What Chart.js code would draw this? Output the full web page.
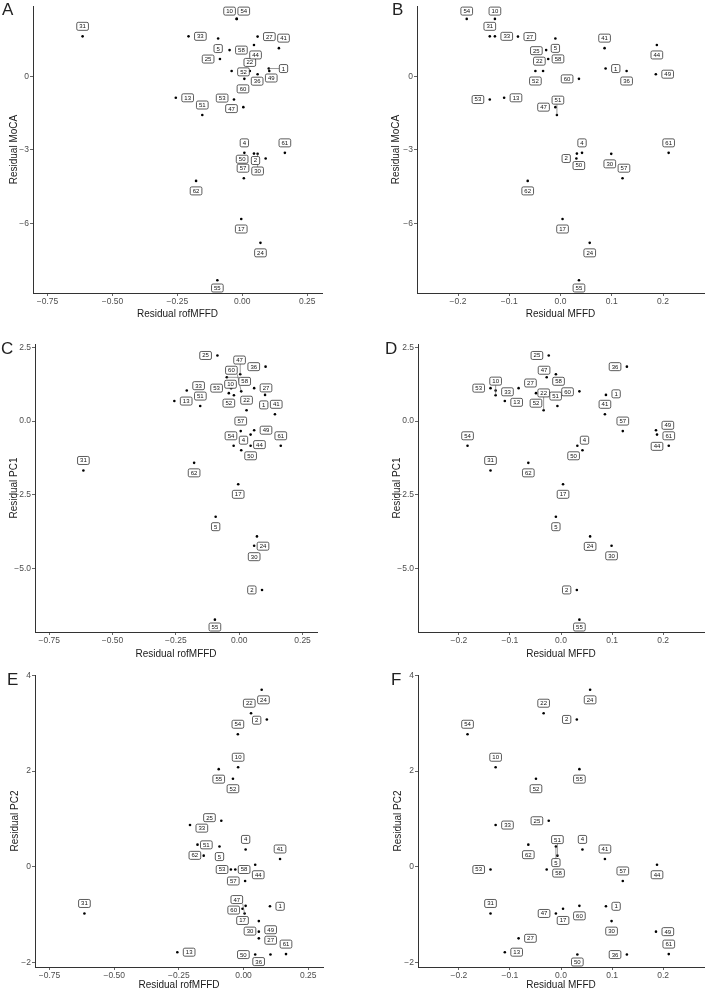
<!DOCTYPE html>
<html>
<head>
<meta charset="utf-8">
<script src="https://cdn.jsdelivr.net/npm/chart.js@4.4.1/dist/chart.umd.min.js"></script>
<style>
  body { margin: 0; background: #fff; width: 708px; height: 991px; position: relative; overflow: hidden; }
  canvas { position: absolute; }
  .tag { position: absolute; font-family: "Liberation Sans", Arial, sans-serif; font-size: 17px; line-height: 1; color: #222; }
</style>
</head>
<body>
<canvas id="chartA"></canvas>
<canvas id="chartB"></canvas>
<canvas id="chartC"></canvas>
<canvas id="chartD"></canvas>
<canvas id="chartE"></canvas>
<canvas id="chartF"></canvas>
<div class="tag" style="left:2px;top:1px">A</div>
<div class="tag" style="left:392px;top:1px">B</div>
<div class="tag" style="left:1px;top:340px">C</div>
<div class="tag" style="left:385px;top:340px">D</div>
<div class="tag" style="left:7px;top:671px">E</div>
<div class="tag" style="left:391px;top:671px">F</div>
<script>
const FONT = '"Liberation Sans", Arial, sans-serif';
const LABEL_SIZE = 6;

// subjects, in the same order in every array
const subjectIds = ["1", "2", "4", "5", "10", "13", "17", "22", "24", "25", "27", "30", "31", "33", "36",
  "41", "44", "47", "49", "50", "51", "52", "53", "54", "55", "57", "58", "60", "61", "62"];
const residRofMFFD = [0.102, 0.090, 0.008, -0.093, -0.021, -0.256, -0.004, 0.029, 0.070, -0.086, 0.059, 0.059, -0.615, -0.207, 0.104,
  0.141, 0.045, 0.004, 0.059, 0.045, -0.154, -0.041, -0.032, -0.022, -0.096, 0.006, -0.049, 0.008, 0.164, -0.178];
const residMFFD = [0.088, 0.031, 0.042, -0.010, -0.128, -0.110, 0.004, -0.034, 0.057, -0.024, -0.083, 0.099, -0.138, -0.128, 0.129,
  0.086, 0.188, -0.010, 0.186, 0.032, -0.007, -0.049, -0.138, -0.183, 0.036, 0.121, -0.028, 0.036, 0.211, -0.064];
const residMoCA = [0.31, -3.35, -3.12, 1.53, 2.33, -0.88, -5.81, 0.21, -6.78, 0.70, 1.61, -3.16, 1.62, 1.62, 0.21,
  1.14, 1.27, -1.26, 0.08, -3.15, -1.58, 0.21, -0.95, 2.33, -8.30, -4.15, 1.06, -0.11, -3.12, -4.26];
const residPC1 = [0.89, -5.74, -0.99, -3.25, 0.88, 0.68, -2.15, 0.37, -3.92, 2.23, 1.12, -4.24, -1.68, 1.04, 1.85,
  0.23, -0.46, 1.59, -0.31, -0.84, 0.51, 0.95, 1.12, -0.84, -6.75, -0.34, 1.49, 1.01, -0.84, -1.42];
const residPC2 = [-0.83, 3.08, 0.36, 0.42, 2.08, -1.79, -0.88, 3.21, 3.70, 0.96, -1.50, -1.14, -0.98, 0.87, -1.84,
  0.16, 0.04, -0.98, -1.36, -1.84, 0.23, 1.84, -0.06, 2.77, 2.04, -0.30, -0.06, -0.82, -1.83, 0.46];

// axis limits and ticks
const rofRange = [-0.806, 0.307];
const mffdRange = [-0.28, 0.28];
const mocaRange = [-8.82, 2.85];
const pc1Range = [-7.17, 2.62];
const pc2Range = [-2.10, 4.01];

const rofTicks = [-0.75, -0.5, -0.25, 0, 0.25];
const rofTickLabels = ["\u22120.75", "\u22120.50", "\u22120.25", "0.00", "0.25"];
const mffdTicks = [-0.2, -0.1, 0, 0.1, 0.2];
const mffdTickLabels = ["\u22120.2", "\u22120.1", "0.0", "0.1", "0.2"];
const mocaTicks = [-6, -3, 0];
const mocaTickLabels = ["\u22126", "\u22123", "0"];
const pc1Ticks = [-5, -2.5, 0, 2.5];
const pc1TickLabels = ["\u22125.0", "\u22122.5", "0.0", "2.5"];
const pc2Ticks = [-2, 0, 2, 4];
const pc2TickLabels = ["\u22122", "0", "2", "4"];

function clamp(v, lo, hi) {
  return Math.max(lo, Math.min(hi, v));
}

// crude ggrepel: push label boxes off each other and off the points
function repel(boxes, pts, area) {
  const n = boxes.length;
  for (let it = 0; it < 500; it++) {
    for (let i = 0; i < n; i++) {
      const a = boxes[i];
      a.x += (pts[i].x - a.x) * 0.02;
      a.y += (pts[i].y - a.y) * 0.02;
      for (let j = 0; j < n; j++) {
        if (j === i) continue;
        const b = boxes[j];
        const dx = a.x - b.x, dy = a.y - b.y;
        const ox = (a.w + b.w) / 2 + 2.5 - Math.abs(dx);
        const oy = (a.h + b.h) / 2 + 2.5 - Math.abs(dy);
        if (ox > 0 && oy > 0) {
          if (ox < oy) {
            const s = (dx > 0 ? 1 : dx < 0 ? -1 : (i < j ? 1 : -1)) * ox / 2;
            a.x += s; b.x -= s;
          } else {
            const s = (dy > 0 ? 1 : dy < 0 ? -1 : (i < j ? 1 : -1)) * oy / 2;
            a.y += s; b.y -= s;
          }
        }
      }
      for (let k = 0; k < pts.length; k++) {
        const p = pts[k];
        const pad = k === i ? 6 : 3;
        const dx = a.x - p.x, dy = a.y - p.y;
        const ox = a.w / 2 + pad - Math.abs(dx);
        const oy = a.h / 2 + pad - Math.abs(dy);
        if (ox > 0 && oy > 0) {
          if (ox < oy) a.x += (dx >= 0 ? 1 : -1) * ox;
          else a.y += (dy >= 0 ? 1 : -1) * oy;
        }
      }
      a.x = clamp(a.x, area.left + a.w / 2 + 1, area.right - a.w / 2 - 1);
      a.y = clamp(a.y, area.top + a.h / 2 + 1, area.bottom - a.h / 2 - 1);
    }
  }
}

const repelLabels = {
  id: "repelLabels",
  afterDatasetsDraw(chart) {
    const ds = chart.data.datasets[0];
    const meta = chart.getDatasetMeta(0);
    const ctx = chart.ctx;
    const area = chart.chartArea;
    ctx.save();
    ctx.font = `${LABEL_SIZE}px ${FONT}`;
    const pts = meta.data.map(el => ({ x: el.x, y: el.y }));
    const boxes = ds.ids.map((id, i) => {
      const a = i * 2.39996 + 0.6;
      return {
        x: pts[i].x + Math.cos(a) * 11,
        y: pts[i].y + Math.sin(a) * 11,
        w: ctx.measureText(id).width + 5,
        h: 8
      };
    });
    repel(boxes, pts, area);

    ctx.strokeStyle = "#555";
    ctx.lineWidth = 0.6;
    boxes.forEach((b, i) => {
      const p = pts[i];
      const nx = clamp(p.x, b.x - b.w / 2, b.x + b.w / 2);
      const ny = clamp(p.y, b.y - b.h / 2, b.y + b.h / 2);
      if (Math.hypot(nx - p.x, ny - p.y) > 10) {
        ctx.beginPath();
        ctx.moveTo(p.x, p.y);
        ctx.lineTo(nx, ny);
        ctx.stroke();
      }
    });

    ctx.textAlign = "center";
    ctx.textBaseline = "middle";
    boxes.forEach((b, i) => {
      ctx.beginPath();
      ctx.roundRect(b.x - b.w / 2, b.y - b.h / 2, b.w, b.h, 1.5);
      ctx.fillStyle = "#fff";
      ctx.fill();
      ctx.strokeStyle = "#333";
      ctx.lineWidth = 0.8;
      ctx.stroke();
      ctx.fillStyle = "#111";
      ctx.fillText(ds.ids[i], b.x, b.y + 0.3);
    });
    ctx.restore();
  }
};

function axisOptions(range, ticks, tickLabels, title, size, isX) {
  return {
    type: "linear",
    min: range[0],
    max: range[1],
    afterBuildTicks: scale => { scale.ticks = ticks.map(v => ({ value: v })); },
    afterFit: scale => {
      if (isX) scale.height = size;
      else scale.width = size;
    },
    grid: { drawOnChartArea: false, drawTicks: true, tickLength: 3, color: "#666" },
    border: { display: true, color: "#333", width: 1 },
    ticks: {
      autoSkip: false,
      maxRotation: 0,
      padding: 1,
      color: "#4d4d4d",
      font: { size: 8.5, family: FONT },
      callback: (v, i) => tickLabels[i]
    },
    title: { display: true, text: title, color: "#1a1a1a", font: { size: 10, family: FONT }, padding: 0 }
  };
}

const panels = [
  { id: "chartA", left: 0, top: 0, width: 354, height: 320, pad: { left: 8, top: 3, right: 32, bottom: 0 }, yw: 25, xh: 27,
    xs: residRofMFFD, ys: residMoCA, xr: rofRange, yr: mocaRange, xt: rofTicks, xl: rofTickLabels, yt: mocaTicks, yl: mocaTickLabels,
    xTitle: "Residual rofMFFD", yTitle: "Residual MoCA" },
  { id: "chartB", left: 354, top: 0, width: 354, height: 320, pad: { left: 36, top: 3, right: 0, bottom: 0 }, yw: 27, xh: 27,
    xs: residMFFD, ys: residMoCA, xr: mffdRange, yr: mocaRange, xt: mffdTicks, xl: mffdTickLabels, yt: mocaTicks, yl: mocaTickLabels,
    xTitle: "Residual MFFD", yTitle: "Residual MoCA" },
  { id: "chartC", left: 0, top: 320, width: 354, height: 340, pad: { left: 8, top: 24, right: 37, bottom: 0 }, yw: 27, xh: 28,
    xs: residRofMFFD, ys: residPC1, xr: rofRange, yr: pc1Range, xt: rofTicks, xl: rofTickLabels, yt: pc1Ticks, yl: pc1TickLabels,
    xTitle: "Residual rofMFFD", yTitle: "Residual PC1" },
  { id: "chartD", left: 354, top: 320, width: 354, height: 340, pad: { left: 37, top: 24, right: 0, bottom: 0 }, yw: 27, xh: 28,
    xs: residMFFD, ys: residPC1, xr: mffdRange, yr: pc1Range, xt: mffdTicks, xl: mffdTickLabels, yt: pc1Ticks, yl: pc1TickLabels,
    xTitle: "Residual MFFD", yTitle: "Residual PC1" },
  { id: "chartE", left: 0, top: 660, width: 354, height: 331, pad: { left: 9, top: 15, right: 31, bottom: 0 }, yw: 26, xh: 24,
    xs: residRofMFFD, ys: residPC2, xr: rofRange, yr: pc2Range, xt: rofTicks, xl: rofTickLabels, yt: pc2Ticks, yl: pc2TickLabels,
    xTitle: "Residual rofMFFD", yTitle: "Residual PC2" },
  { id: "chartF", left: 354, top: 660, width: 354, height: 331, pad: { left: 38, top: 15, right: 0, bottom: 0 }, yw: 26, xh: 24,
    xs: residMFFD, ys: residPC2, xr: mffdRange, yr: pc2Range, xt: mffdTicks, xl: mffdTickLabels, yt: pc2Ticks, yl: pc2TickLabels,
    xTitle: "Residual MFFD", yTitle: "Residual PC2" }
];

function buildPanel(p) {
  const canvas = document.getElementById(p.id);
  canvas.width = p.width;
  canvas.height = p.height;
  canvas.style.left = p.left + "px";
  canvas.style.top = p.top + "px";
  canvas.style.width = p.width + "px";
  canvas.style.height = p.height + "px";

  new Chart(canvas, {
    type: "scatter",
    data: {
      datasets: [{
        data: p.xs.map((x, i) => ({ x, y: p.ys[i] })),
        ids: subjectIds,
        pointRadius: 1.3,
        pointBackgroundColor: "#000",
        pointBorderWidth: 0
      }]
    },
    options: {
      responsive: false,
      animation: false,
      layout: { padding: p.pad },
      plugins: { legend: { display: false }, tooltip: { enabled: false } },
      scales: {
        x: axisOptions(p.xr, p.xt, p.xl, p.xTitle, p.xh, true),
        y: axisOptions(p.yr, p.yt, p.yl, p.yTitle, p.yw, false)
      }
    },
    plugins: [repelLabels]
  });
}

panels.forEach(buildPanel);
</script>
</body>
</html>
